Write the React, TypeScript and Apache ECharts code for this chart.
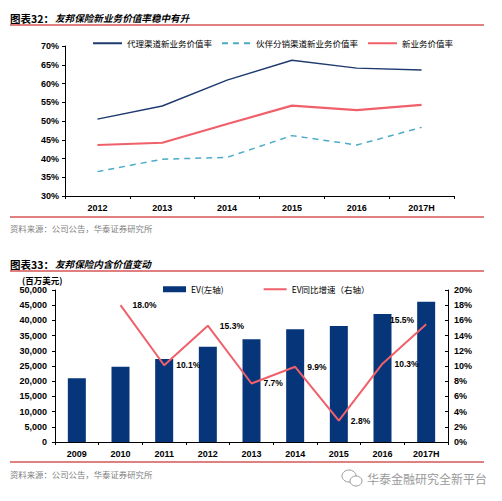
import React, { useEffect, useRef } from "react";
import * as echarts from "echarts";

const years1 = ["2012", "2013", "2014", "2015", "2016", "2017H"];
const agencyVNB = [50.5, 54.0, 60.9, 66.2, 64.1, 63.6];
const partnerVNB = [36.5, 39.8, 40.3, 46.1, 43.6, 48.3];
const totalVNB = [43.6, 44.2, 49.2, 54.1, 52.9, 54.3];
const names1 = ["代理渠道新业务价值率", "伙伴分销渠道新业务价值率", "新业务价值率"];

const years2 = ["2009", "2010", "2011", "2012", "2013", "2014", "2015", "2016", "2017H"];
const evValues = [20950, 24770, 27300, 31350, 33780, 37070, 38160, 42100, 46150];
const evGrowth: (number | null)[] = [null, 18.0, 10.1, 15.3, 7.7, 9.9, 2.8, 10.3, 15.5];
const names2 = ["EV(左轴)", "EV同比增速（右轴）"];

const title1Prefix = "图表32：";
const title1 = "友邦保险新业务价值率稳中有升";
const title2Prefix = "图表33：";
const title2 = "友邦保险内含价值变动";
const sourceText = "资料来源：公司公告，华泰证券研究所";
const unitText = "(百万美元)";
const watermark = "华泰金融研究全新平台";

const NUM = "'Liberation Sans', Arial, sans-serif";
const CJK = "'Noto Sans CJK SC', sans-serif";
const RED = "#C00000";

export default function App() {
  const ref = useRef<HTMLDivElement>(null);
  useEffect(() => {
    if (!ref.current) return;
    const chart = echarts.init(ref.current, null, { renderer: "svg" });
    const axisLabel = { color: "#000", fontSize: 9, fontWeight: "bold", fontFamily: NUM };
    const axisLine = { show: true, lineStyle: { color: "#000", width: 1 } };
    const axisTick = { show: true, length: 3, lineStyle: { color: "#000" } };

    const text = (x: number, y: number, t: string, o: any = {}) => ({
      type: "text",
      x,
      y,
      silent: true,
      style: {
        text: t,
        fontSize: o.fontSize ?? 10,
        fontWeight: o.fontWeight ?? "normal",
        fontStyle: o.fontStyle ?? "normal",
        fontFamily: o.fontFamily ?? CJK,
        fill: o.fill ?? "#000",
        verticalAlign: "middle",
        align: o.align ?? "left",
      },
    });
    const hline = (y: number) => ({
      type: "line",
      silent: true,
      shape: { x1: 10, y1: y, x2: 484, y2: y },
      style: { stroke: RED, lineWidth: 1 },
    });

    chart.setOption({
      animation: false,
      backgroundColor: "#fff",
      grid: [
        { left: 65, right: 48, top: 46, bottom: 305 },
        { left: 55, right: 54, top: 290, bottom: 59 },
      ],
      legend: [
        {
          data: names1,
          left: 87,
          top: 34,
          itemWidth: 29,
          itemHeight: 10,
          itemGap: 9,
          itemStyle: { opacity: 0 },
          textStyle: { fontSize: 8.5, fontFamily: CJK, color: "#000" },
        },
        {
          data: [
            { name: names2[0], icon: "rect", itemStyle: { color: "#06357A", opacity: 1 } },
            { name: names2[1], itemStyle: { opacity: 0 } },
          ],
          left: 158,
          top: 280,
          itemWidth: 23,
          itemHeight: 6,
          itemGap: 39,
          textStyle: { fontSize: 8.5, fontFamily: CJK, color: "#000" },
        },
      ],
      xAxis: [
        {
          type: "category",
          gridIndex: 0,
          data: years1,
          boundaryGap: true,
          axisLine,
          axisTick,
          axisLabel: { ...axisLabel, margin: 7 },
        },
        {
          type: "category",
          gridIndex: 1,
          data: years2,
          boundaryGap: true,
          axisLine,
          axisTick,
          axisLabel: { ...axisLabel, margin: 7 },
        },
      ],
      yAxis: [
        {
          type: "value",
          gridIndex: 0,
          min: 30,
          max: 70,
          interval: 5,
          axisLine,
          axisTick,
          splitLine: { show: false },
          axisLabel: { ...axisLabel, margin: 6, formatter: (v: number) => `${v}%` },
        },
        {
          type: "value",
          gridIndex: 1,
          min: 0,
          max: 50000,
          interval: 5000,
          axisLine,
          axisTick,
          splitLine: { show: false },
          axisLabel: {
            ...axisLabel,
            margin: 8,
            formatter: (v: number) => v.toLocaleString("en-US"),
          },
        },
        {
          type: "value",
          gridIndex: 1,
          position: "right",
          min: 0,
          max: 20,
          interval: 2,
          axisLine,
          axisTick: { ...axisTick, inside: true },
          splitLine: { show: false },
          axisLabel: { ...axisLabel, margin: 6, formatter: (v: number) => `${v}%` },
        },
      ],
      series: [
        {
          name: names1[0],
          type: "line",
          xAxisIndex: 0,
          yAxisIndex: 0,
          data: agencyVNB,
          symbol: "none",
          lineStyle: { color: "#1F3A6E", width: 1.5 },
          itemStyle: { color: "#1F3A6E" },
        },
        {
          name: names1[1],
          type: "line",
          xAxisIndex: 0,
          yAxisIndex: 0,
          data: partnerVNB,
          symbol: "none",
          lineStyle: { color: "#4BACC6", width: 1.5, type: [6, 5] },
          itemStyle: { color: "#4BACC6" },
        },
        {
          name: names1[2],
          type: "line",
          xAxisIndex: 0,
          yAxisIndex: 0,
          data: totalVNB,
          symbol: "none",
          lineStyle: { color: "#F0606A", width: 2.2 },
          itemStyle: { color: "#F0606A" },
        },
        {
          name: names2[0],
          type: "bar",
          xAxisIndex: 1,
          yAxisIndex: 1,
          data: evValues,
          barWidth: 18,
          itemStyle: { color: "#06357A" },
        },
        {
          name: names2[1],
          type: "line",
          xAxisIndex: 1,
          yAxisIndex: 2,
          data: evGrowth.map((v, i) =>
            v === null
              ? null
              : i === evGrowth.length - 1
              ? { value: v, label: { position: "left", distance: 11, offset: [0, -4] } }
              : v
          ),
          symbol: "circle",
          symbolSize: 2,
          showSymbol: true,
          showAllSymbol: true,
          connectNulls: false,
          lineStyle: { color: "#F0606A", width: 2 },
          itemStyle: { color: "rgba(0,0,0,0)", borderWidth: 0 },
          label: {
            show: true,
            position: "right",
            distance: 11,
            color: "#000",
            fontSize: 8.5,
            fontWeight: "bold",
            fontFamily: NUM,
            formatter: (p: any) => `${Number(p.value).toFixed(1)}%`,
          },
        },
      ],
      graphic: [
        text(10, 18, title1Prefix, { fontWeight: "bold", fontSize: 10.5 }),
        text(55, 18, title1, { fontWeight: "bold", fontStyle: "italic", fontSize: 9.6 }),
        hline(25),
        hline(217),
        text(10, 228, sourceText, { fontSize: 8.4, fill: "#808080" }),
        text(10, 264, title2Prefix, { fontWeight: "bold", fontSize: 10.5 }),
        text(55, 264, title2, { fontWeight: "bold", fontStyle: "italic", fontSize: 9.6 }),
        hline(271),
        text(22, 279.5, unitText, { fontSize: 8.5, fontWeight: "bold" }),
        hline(462),
        text(10, 474, sourceText, { fontSize: 8.4, fill: "#808080" }),
        {
          type: "ellipse",
          silent: true,
          shape: { cx: 349, cy: 476, rx: 7, ry: 6 },
          style: { fill: "#fff", stroke: "#9a9a9a", lineWidth: 1 },
        },
        {
          type: "ellipse",
          silent: true,
          shape: { cx: 356, cy: 481, rx: 6, ry: 5 },
          style: { fill: "#fff", stroke: "#9a9a9a", lineWidth: 1 },
        },
        text(367, 478, watermark, { fontSize: 12, fill: "#9a9a9a" }),
      ],
    });
    return () => chart.dispose();
  }, []);
  return (
    <div
      ref={ref}
      style={{ position: "absolute", left: 0, top: 0, width: 502, height: 501 }}
    />
  );
}
